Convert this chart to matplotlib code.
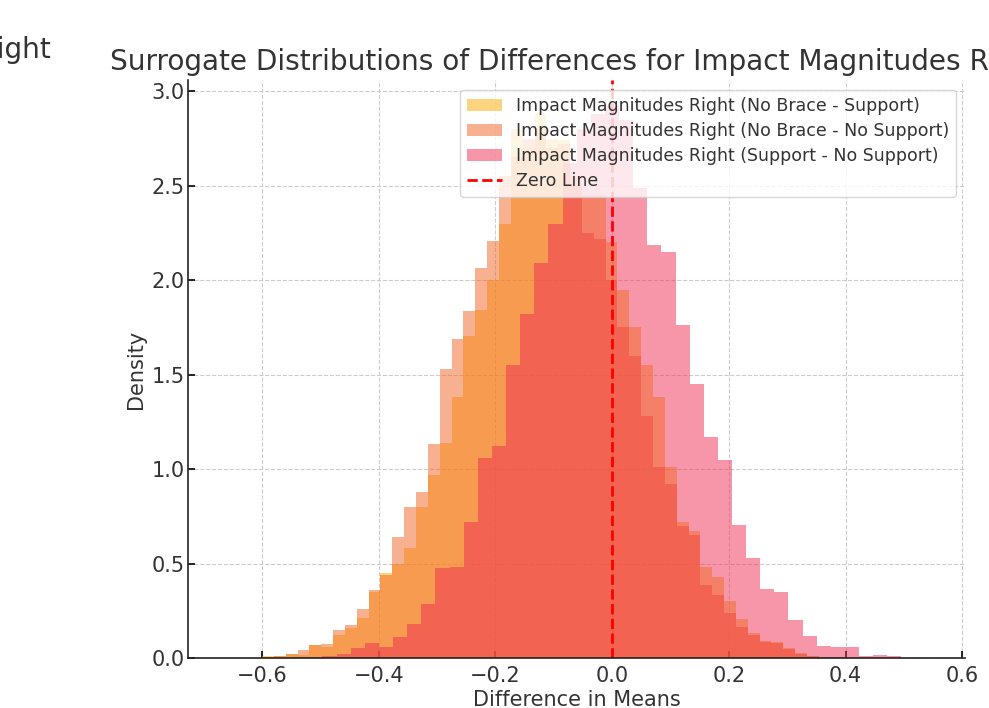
import numpy as np
import matplotlib.pyplot as plt

# bin edges of each surrogate histogram
edges_nb_s = np.linspace(-0.600, 0.415, 51)
edges_nb_ns = np.linspace(-0.600, 0.415, 51)
edges_s_ns = np.linspace(-0.5449, 0.4957, 44)

# densities
dens_nb_s = [0.012, 0.010, 0.020, 0.015, 0.070, 0.056, 0.122, 0.157, 0.210, 0.350,
             0.450, 0.500, 0.580, 0.800, 0.967, 1.140, 1.380, 1.706, 1.840, 2.000,
             2.300, 2.800, 2.700, 2.880, 2.750, 2.740, 2.550, 2.450, 2.450, 2.200,
             1.950, 1.750, 1.550, 1.380, 1.010, 0.720, 0.670, 0.480, 0.430, 0.300,
             0.204, 0.130, 0.090, 0.085, 0.053, 0.026, 0.012, 0.006, 0.004, 0.003]
dens_nb_ns = [0.008, 0.012, 0.020, 0.042, 0.070, 0.075, 0.148, 0.174, 0.262, 0.359,
              0.438, 0.641, 0.800, 0.880, 1.134, 1.530, 1.690, 1.838, 2.067, 2.210,
              2.550, 2.650, 2.750, 2.800, 2.700, 2.720, 2.500, 2.250, 2.220, 2.000,
              1.750, 1.600, 1.280, 1.010, 0.920, 0.700, 0.650, 0.386, 0.333, 0.236,
              0.165, 0.120, 0.085, 0.080, 0.050, 0.022, 0.010, 0.005, 0.003, 0.002]
dens_s_ns = [0.005, 0.005, 0.010, 0.020, 0.053, 0.079, 0.060, 0.113, 0.180, 0.284,
             0.475, 0.482, 0.720, 1.060, 1.120, 1.550, 1.820, 2.090, 2.300, 2.620,
             2.800, 2.880, 2.920, 2.850, 2.490, 2.185, 2.150, 1.764, 1.451, 1.169,
             1.049, 0.703, 0.532, 0.368, 0.347, 0.200, 0.118, 0.063, 0.056, 0.056,
             0.012, 0.014, 0.010]

labels = ["Impact Magnitudes Right (No Brace - Support)",
          "Impact Magnitudes Right (No Brace - No Support)",
          "Impact Magnitudes Right (Support - No Support)"]
colors = ["#FBA901", "#F36523", "#EF2F53"]

plt.rcParams['font.family'] = 'DejaVu Sans'
text_col = '#333333'

fig = plt.figure(figsize=(9.89, 7.08), dpi=100)
ax = fig.add_axes([0.190, 0.0706, 0.786, 0.8164])

for edges, dens, lab, col in zip([edges_nb_s, edges_nb_ns, edges_s_ns],
                                 [dens_nb_s, dens_nb_ns, dens_s_ns], labels, colors):
    ax.hist(edges[:-1], bins=edges, weights=dens, alpha=0.5, color=col, label=lab)

ax.axvline(0, color='red', linestyle='--', linewidth=2, label='Zero Line')

ax.set_xlim(-0.727, 0.605)
ax.set_ylim(0, 3.06)
ax.set_xticks([-0.6, -0.4, -0.2, 0.0, 0.2, 0.4, 0.6])
ax.set_yticks([0.0, 0.5, 1.0, 1.5, 2.0, 2.5, 3.0])
ax.set_axisbelow(True)
ax.grid(True, linestyle='--', color='#cccccc', linewidth=0.8)
for s in ['top', 'right']:
    ax.spines[s].set_visible(False)
for s in ['left', 'bottom']:
    ax.spines[s].set_linewidth(1.2)
    ax.spines[s].set_color('#222222')
ax.tick_params(direction='in', length=5, width=1.2, labelsize=15, labelcolor=text_col)
ax.tick_params(axis='x', pad=6)
ax.tick_params(axis='y', pad=2.5)

ax.set_xlabel("Difference in Means", fontsize=15, color=text_col, labelpad=2.5)
ax.set_ylabel("Density", fontsize=15, color=text_col, labelpad=4)
ax.set_title("Surrogate Distributions of Differences for Impact Magnitudes Right",
             fontsize=20.2, color=text_col, loc='left', x=-0.10, pad=7)

# tail of the neighbouring panel's title, cut by the image edge
fig.text(51 / 989, 1 - 58 / 708, "Impact Magnitudes Right", fontsize=20.2, color=text_col,
         ha='right', va='baseline')

leg = ax.legend(loc='upper right', bbox_to_anchor=(0.988, 0.983), borderaxespad=0,
                fontsize=12.5, framealpha=0.8, labelcolor=text_col, handlelength=2.0,
                borderpad=0.4, labelspacing=0.4, edgecolor='#cccccc')

fig.savefig("out.png", dpi=100)
